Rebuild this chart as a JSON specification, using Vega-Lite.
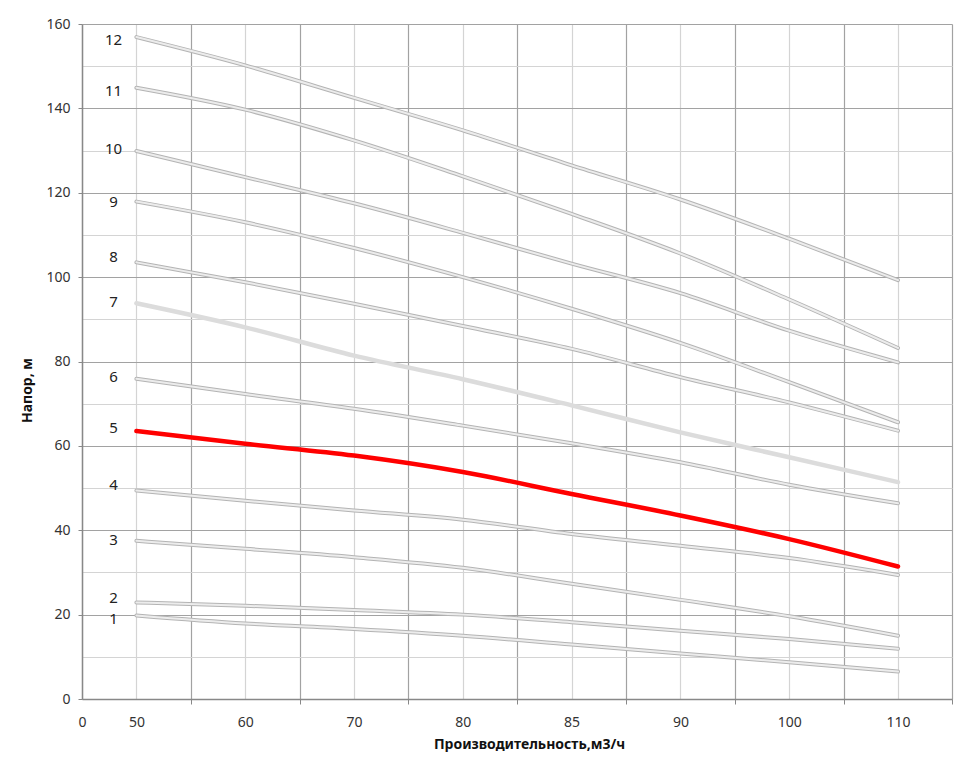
{
  "$schema": "https://vega.github.io/schema/vega-lite/v6.json",
  "width": 870,
  "height": 675,
  "autosize": "none",
  "padding": {"left": 82, "top": 24, "right": 25, "bottom": 64},
  "background": "white",
  "config": {"view": {"stroke": null}, "font": "Noto Sans"},
  "datasets": {
    "curves": [
      {"curve": 1, "q": 50, "h": 19.8}, {"curve": 1, "q": 60, "h": 17.9}, {"curve": 1, "q": 70, "h": 16.6}, {"curve": 1, "q": 80, "h": 15.0}, {"curve": 1, "q": 85, "h": 12.9}, {"curve": 1, "q": 90, "h": 10.8}, {"curve": 1, "q": 100, "h": 8.7}, {"curve": 1, "q": 110, "h": 6.5},
      {"curve": 2, "q": 50, "h": 22.9}, {"curve": 2, "q": 60, "h": 22.1}, {"curve": 2, "q": 70, "h": 21.1}, {"curve": 2, "q": 80, "h": 20.0}, {"curve": 2, "q": 85, "h": 18.2}, {"curve": 2, "q": 90, "h": 16.2}, {"curve": 2, "q": 100, "h": 14.2}, {"curve": 2, "q": 110, "h": 11.9},
      {"curve": 3, "q": 50, "h": 37.5}, {"curve": 3, "q": 60, "h": 35.6}, {"curve": 3, "q": 70, "h": 33.6}, {"curve": 3, "q": 80, "h": 31.1}, {"curve": 3, "q": 85, "h": 27.3}, {"curve": 3, "q": 90, "h": 23.5}, {"curve": 3, "q": 100, "h": 19.6}, {"curve": 3, "q": 110, "h": 15.0},
      {"curve": 4, "q": 50, "h": 49.4}, {"curve": 4, "q": 60, "h": 47.0}, {"curve": 4, "q": 70, "h": 44.7}, {"curve": 4, "q": 80, "h": 42.5}, {"curve": 4, "q": 85, "h": 39.1}, {"curve": 4, "q": 90, "h": 36.3}, {"curve": 4, "q": 100, "h": 33.4}, {"curve": 4, "q": 110, "h": 29.4},
      {"curve": 5, "q": 50, "h": 63.5}, {"curve": 5, "q": 60, "h": 60.5}, {"curve": 5, "q": 70, "h": 57.7}, {"curve": 5, "q": 80, "h": 53.8}, {"curve": 5, "q": 85, "h": 48.6}, {"curve": 5, "q": 90, "h": 43.5}, {"curve": 5, "q": 100, "h": 37.9}, {"curve": 5, "q": 110, "h": 31.4},
      {"curve": 6, "q": 50, "h": 75.9}, {"curve": 6, "q": 60, "h": 72.3}, {"curve": 6, "q": 70, "h": 68.8}, {"curve": 6, "q": 80, "h": 64.8}, {"curve": 6, "q": 85, "h": 60.6}, {"curve": 6, "q": 90, "h": 56.1}, {"curve": 6, "q": 100, "h": 50.8}, {"curve": 6, "q": 110, "h": 46.4},
      {"curve": 7, "q": 50, "h": 93.8}, {"curve": 7, "q": 60, "h": 88.1}, {"curve": 7, "q": 70, "h": 81.4}, {"curve": 7, "q": 80, "h": 75.8}, {"curve": 7, "q": 85, "h": 69.6}, {"curve": 7, "q": 90, "h": 63.2}, {"curve": 7, "q": 100, "h": 57.3}, {"curve": 7, "q": 110, "h": 51.4},
      {"curve": 8, "q": 50, "h": 103.5}, {"curve": 8, "q": 60, "h": 98.8}, {"curve": 8, "q": 70, "h": 93.7}, {"curve": 8, "q": 80, "h": 88.4}, {"curve": 8, "q": 85, "h": 83.0}, {"curve": 8, "q": 90, "h": 76.3}, {"curve": 8, "q": 100, "h": 70.3}, {"curve": 8, "q": 110, "h": 63.6},
      {"curve": 9, "q": 50, "h": 117.9}, {"curve": 9, "q": 60, "h": 113.0}, {"curve": 9, "q": 70, "h": 106.9}, {"curve": 9, "q": 80, "h": 100.0}, {"curve": 9, "q": 85, "h": 92.5}, {"curve": 9, "q": 90, "h": 84.4}, {"curve": 9, "q": 100, "h": 75.1}, {"curve": 9, "q": 110, "h": 65.6},
      {"curve": 10, "q": 50, "h": 129.9}, {"curve": 10, "q": 60, "h": 123.7}, {"curve": 10, "q": 70, "h": 117.5}, {"curve": 10, "q": 80, "h": 110.5}, {"curve": 10, "q": 85, "h": 103.2}, {"curve": 10, "q": 90, "h": 96.2}, {"curve": 10, "q": 100, "h": 87.3}, {"curve": 10, "q": 110, "h": 79.8},
      {"curve": 11, "q": 50, "h": 144.9}, {"curve": 11, "q": 60, "h": 139.7}, {"curve": 11, "q": 70, "h": 132.4}, {"curve": 11, "q": 80, "h": 123.9}, {"curve": 11, "q": 85, "h": 115.0}, {"curve": 11, "q": 90, "h": 105.6}, {"curve": 11, "q": 100, "h": 94.7}, {"curve": 11, "q": 110, "h": 83.2},
      {"curve": 12, "q": 50, "h": 156.9}, {"curve": 12, "q": 60, "h": 150.2}, {"curve": 12, "q": 70, "h": 142.5}, {"curve": 12, "q": 80, "h": 134.8}, {"curve": 12, "q": 85, "h": 126.5}, {"curve": 12, "q": 90, "h": 118.4}, {"curve": 12, "q": 100, "h": 109.1}, {"curve": 12, "q": 110, "h": 99.3}
    ],
    "labels": [
      {"curve": 1, "q": 29, "h": 18.9}, {"curve": 2, "q": 29, "h": 23.9}, {"curve": 3, "q": 29, "h": 37.8}, {"curve": 4, "q": 29, "h": 50.8},
      {"curve": 5, "q": 29, "h": 64.2}, {"curve": 6, "q": 29, "h": 76.3}, {"curve": 7, "q": 29, "h": 94.2}, {"curve": 8, "q": 29, "h": 104.8},
      {"curve": 9, "q": 29, "h": 117.7}, {"curve": 10, "q": 29, "h": 130.3}, {"curve": 11, "q": 29, "h": 144.1}, {"curve": 12, "q": 29, "h": 156.3}
    ]
  },
  "encoding": {
    "x": {
      "field": "q", "type": "quantitative",
      "scale": {"type": "linear", "domain": [0, 50, 60, 70, 80, 85, 90, 100, 110, 115], "range": [0, 54.4, 163.2, 272, 380.8, 489.6, 598.4, 707.2, 816, 870]},
      "axis": {
        "values": [0, 50, 55, 60, 65, 70, 75, 80, 82.5, 85, 87.5, 90, 95, 100, 105, 110, 115],
        "labelExpr": "(datum.value == 55 || datum.value == 65 || datum.value == 75 || datum.value == 82.5 || datum.value == 87.5 || datum.value == 95 || datum.value == 105 || datum.value == 115) ? '' : datum.label",
        "labelFontSize": 14, "labelColor": "#333333", "labelPadding": 11, "labelFlush": false, "labelOverlap": false,
        "tickSize": 5, "tickColor": "#888888",
        "tickOpacity": {"condition": {"test": "datum.value == 55 || datum.value == 65 || datum.value == 75 || datum.value == 82.5 || datum.value == 87.5 || datum.value == 95 || datum.value == 105 || datum.value == 115", "value": 1}, "value": 0},
        "grid": true,
        "gridColor": {"condition": {"test": "datum.value == 55 || datum.value == 65 || datum.value == 75 || datum.value == 82.5 || datum.value == 87.5 || datum.value == 95 || datum.value == 105 || datum.value == 115", "value": "#a2a2a2"}, "value": "#d4d4d4"},
        "gridWidth": 1.2,
        "domainColor": "#888888", "domainWidth": 1.5,
        "title": "Производительность,м3/ч", "titleFontSize": 14, "titleFontWeight": "bold", "titleColor": "#111111",
        "titleX": 447, "titleY": 45, "titleAlign": "center", "titleBaseline": "middle"
      }
    },
    "y": {
      "field": "h", "type": "quantitative",
      "scale": {"domain": [0, 160], "nice": false},
      "axis": {
        "values": [0, 10, 20, 30, 40, 50, 60, 70, 80, 90, 100, 110, 120, 130, 140, 150, 160],
        "labelExpr": "datum.value % 20 == 0 ? datum.label : ''",
        "labelFontSize": 14, "labelColor": "#333333", "labelPadding": 8,
        "tickSize": 4, "tickColor": "#888888",
        "tickOpacity": {"condition": {"test": "datum.value % 20 == 0", "value": 1}, "value": 0},
        "grid": true,
        "gridColor": {"condition": {"test": "datum.value % 20 == 0", "value": "#a2a2a2"}, "value": "#d4d4d4"},
        "gridWidth": 1.2,
        "domainColor": "#888888", "domainWidth": 1.5,
        "title": "Напор, м", "titleFontSize": 14, "titleFontWeight": "bold", "titleColor": "#111111",
        "titleX": -55, "titleY": 366, "titleAlign": "center", "titleBaseline": "middle", "titleAngle": -90
      }
    }
  },
  "layer": [
    {
      "data": {"name": "curves"},
      "transform": [{"filter": "datum.curve != 5 && datum.curve != 7"}],
      "mark": {"type": "line", "interpolate": "monotone", "color": "#b4b4b4", "strokeWidth": 4, "strokeCap": "round"},
      "encoding": {"detail": {"field": "curve", "type": "nominal"}}
    },
    {
      "data": {"name": "curves"},
      "transform": [{"filter": "datum.curve != 5 && datum.curve != 7"}],
      "mark": {"type": "line", "interpolate": "monotone", "color": "#ececec", "strokeWidth": 2, "strokeCap": "round"},
      "encoding": {"detail": {"field": "curve", "type": "nominal"}}
    },
    {
      "data": {"name": "curves"},
      "transform": [{"filter": "datum.curve == 7"}],
      "mark": {"type": "line", "interpolate": "monotone", "color": "#dcdcdc", "strokeWidth": 4.5, "strokeCap": "round"},
      "encoding": {}
    },
    {
      "data": {"name": "curves"},
      "transform": [{"filter": "datum.curve == 5"}],
      "mark": {"type": "line", "interpolate": "monotone", "color": "#ff0000", "strokeWidth": 4.5, "strokeCap": "round"},
      "encoding": {}
    },
    {
      "data": {"name": "labels"},
      "mark": {"type": "text", "fontSize": 15, "color": "#222222", "align": "center", "baseline": "middle"},
      "encoding": {"text": {"field": "curve", "type": "nominal"}}
    }
  ]
}
